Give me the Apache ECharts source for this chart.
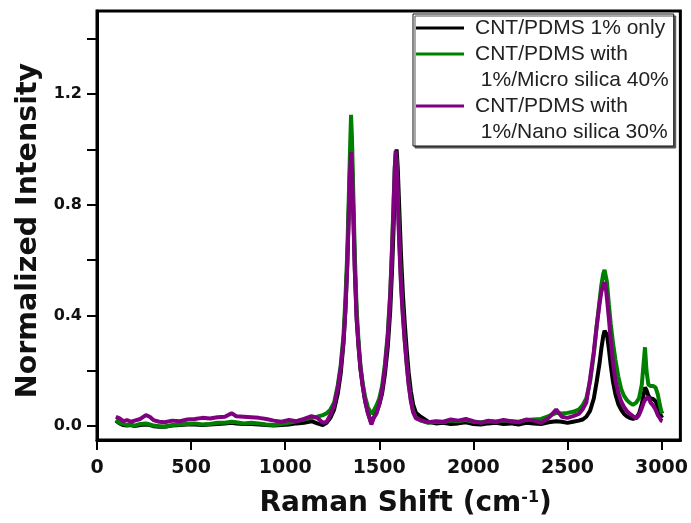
<!DOCTYPE html>
<html>
<head>
<meta charset="utf-8">
<title>Raman spectra</title>
<script src="https://cdn.jsdelivr.net/npm/echarts@6/dist/echarts.min.js"></script>
<style>
  html, body { margin: 0; padding: 0; background: #fff; }
  #chart { width: 691px; height: 523px; }
</style>
</head>
<body>
<div id="chart"></div>
<script>
// Raman shift (cm-1) sampled along the spectra
const ramanShift = [
  100, 120, 140, 160, 180, 200, 230, 260, 280, 300,
  330, 360, 400, 440, 480, 520, 560, 600, 640, 680,
  715, 740, 780, 820, 860, 900, 940, 980, 1020, 1060,
  1100, 1140, 1170, 1200, 1220, 1240, 1260, 1280, 1295, 1310,
  1320, 1330, 1338, 1345, 1350, 1355, 1362, 1370, 1380, 1390,
  1400, 1412, 1425, 1440, 1458, 1470, 1485, 1500, 1515, 1530,
  1545, 1558, 1568, 1576, 1582, 1587, 1592, 1598, 1606, 1616,
  1626, 1636, 1646, 1656, 1668, 1680, 1695, 1720, 1760, 1800,
  1840, 1880, 1920, 1960, 2000, 2040, 2080, 2120, 2160, 2200,
  2240, 2280, 2320, 2360, 2400, 2440, 2470, 2500, 2530, 2560,
  2580, 2600, 2620, 2640, 2655, 2670, 2680, 2690, 2697, 2703,
  2710, 2720, 2730, 2742, 2755, 2770, 2785, 2800, 2815, 2830,
  2848, 2865, 2880, 2895, 2905, 2912, 2920, 2930, 2942, 2955,
  2968, 2980, 2990, 2998, 3005
]

// CNT/PDMS 1% only
const cntOnly = [
  0.020, 0.010, 0.004, 0.002, 0.004, 0.000, 0.004, 0.006, 0.004, 0.000,
  -0.002, -0.002, 0.002, 0.004, 0.006, 0.006, 0.004, 0.006, 0.008, 0.010,
  0.012, 0.010, 0.008, 0.008, 0.006, 0.004, 0.002, 0.004, 0.006, 0.010,
  0.012, 0.018, 0.010, 0.004, 0.012, 0.030, 0.060, 0.120, 0.190, 0.300,
  0.420, 0.590, 0.780, 0.950, 1.020, 0.950, 0.780, 0.570, 0.390, 0.285,
  0.205, 0.145, 0.090, 0.048, 0.012, 0.030, 0.050, 0.078, 0.118, 0.188,
  0.285, 0.415, 0.565, 0.715, 0.845, 0.935, 1.000, 0.935, 0.790, 0.610,
  0.470, 0.365, 0.275, 0.195, 0.125, 0.078, 0.048, 0.034, 0.016, 0.010,
  0.012, 0.008, 0.010, 0.014, 0.008, 0.006, 0.010, 0.012, 0.008, 0.010,
  0.006, 0.012, 0.010, 0.008, 0.014, 0.018, 0.016, 0.012, 0.016, 0.020,
  0.024, 0.034, 0.055, 0.100, 0.160, 0.225, 0.280, 0.325, 0.345, 0.352,
  0.330, 0.280, 0.220, 0.160, 0.115, 0.080, 0.060, 0.045, 0.036, 0.030,
  0.026, 0.030, 0.045, 0.080, 0.115, 0.140, 0.130, 0.110, 0.100, 0.098,
  0.090, 0.070, 0.050, 0.035, 0.030
]

// CNT/PDMS with 1% / Micro silica 40%
const microSilica = [
  0.022, 0.012, 0.008, 0.004, 0.006, 0.002, 0.008, 0.010, 0.006, 0.002,
  0.000, -0.002, 0.004, 0.006, 0.008, 0.010, 0.006, 0.008, 0.012, 0.012,
  0.016, 0.014, 0.010, 0.012, 0.010, 0.006, 0.004, 0.008, 0.012, 0.018,
  0.024, 0.030, 0.034, 0.040, 0.046, 0.060, 0.085, 0.150, 0.220, 0.330,
  0.460, 0.630, 0.830, 1.010, 1.125, 1.040, 0.840, 0.620, 0.420, 0.305,
  0.220, 0.155, 0.105, 0.068, 0.045, 0.055, 0.075, 0.100, 0.145, 0.225,
  0.335, 0.480, 0.650, 0.810, 0.930, 0.985, 0.960, 0.840, 0.680, 0.515,
  0.400, 0.305, 0.225, 0.155, 0.095, 0.055, 0.030, 0.020, 0.012, 0.016,
  0.014, 0.020, 0.018, 0.022, 0.016, 0.014, 0.018, 0.016, 0.020, 0.018,
  0.016, 0.022, 0.024, 0.026, 0.036, 0.048, 0.046, 0.048, 0.052, 0.060,
  0.075, 0.100, 0.160, 0.260, 0.360, 0.450, 0.510, 0.550, 0.565, 0.560,
  0.520, 0.440, 0.370, 0.300, 0.240, 0.180, 0.135, 0.110, 0.095, 0.085,
  0.077, 0.085, 0.100, 0.150, 0.230, 0.285, 0.200, 0.150, 0.145, 0.145,
  0.140, 0.115, 0.080, 0.055, 0.045
]

// CNT/PDMS with 1% / Nano silica 30%
const nanoSilica = [
  0.034, 0.028, 0.018, 0.022, 0.016, 0.020, 0.026, 0.040, 0.034, 0.022,
  0.016, 0.014, 0.020, 0.018, 0.024, 0.026, 0.030, 0.028, 0.032, 0.034,
  0.047, 0.036, 0.034, 0.032, 0.030, 0.026, 0.020, 0.016, 0.022, 0.018,
  0.026, 0.036, 0.030, 0.012, 0.016, 0.040, 0.075, 0.140, 0.210, 0.310,
  0.420, 0.580, 0.760, 0.920, 0.990, 0.930, 0.760, 0.560, 0.380, 0.290,
  0.210, 0.145, 0.090, 0.045, 0.006, 0.030, 0.045, 0.080, 0.130, 0.210,
  0.320, 0.470, 0.640, 0.800, 0.930, 0.995, 0.950, 0.820, 0.660, 0.500,
  0.390, 0.300, 0.220, 0.150, 0.090, 0.050, 0.028, 0.022, 0.014, 0.018,
  0.016, 0.024, 0.020, 0.026, 0.018, 0.012, 0.020, 0.016, 0.022, 0.018,
  0.014, 0.024, 0.020, 0.012, 0.030, 0.060, 0.034, 0.030, 0.036, 0.044,
  0.060, 0.085, 0.170, 0.270, 0.360, 0.440, 0.485, 0.510, 0.520, 0.505,
  0.460, 0.390, 0.310, 0.230, 0.165, 0.120, 0.090, 0.070, 0.055, 0.045,
  0.036, 0.028, 0.040, 0.065, 0.085, 0.095, 0.100, 0.105, 0.085, 0.075,
  0.060, 0.040, 0.030, 0.020, 0.018
]

const seriesNames = [
  'CNT/PDMS 1% only',
  'CNT/PDMS with\n 1%/Micro silica 40%',
  'CNT/PDMS with\n 1%/Nano silica 30%'
]
const seriesColors = ['#000000', '#008000', '#800080']
const xTicks = [0, 500, 1000, 1500, 2000, 2500, 3000]
const yTicks = [0, 0.2, 0.4, 0.6, 0.8, 1.0, 1.2, 1.4]
const yLabels = [0, 0.4, 0.8, 1.2]

const toPoints = (ys) => ramanShift.map((x, i) => [x, ys[i]])

const legendLine = 26
const tickFont = { fontFamily: 'DejaVu Sans', fontWeight: 'bold', color: '#111' }

const chart = echarts.init(document.getElementById('chart'), null, { renderer: 'canvas' })

chart.setOption({
  animation: false,
  grid: {
    left: 97,
    right: 10,
    top: 11,
    bottom: 83,
    show: true,
    borderColor: '#000',
    borderWidth: 3
  },
  legend: {
    left: 413,
    top: 14,
    orient: 'vertical',
    selectedMode: false,
    icon: 'rect',
    itemWidth: 48,
    itemHeight: 3,
    // two-line names get an empty line on top, so the sample line sits on their first line
    itemGap: -legendLine,
    formatter: (name) => (name.indexOf('\n') >= 0 ? '\n' + name : name),
    padding: [1, 5, 1, 3],
    backgroundColor: '#fff',
    borderColor: '#111',
    borderWidth: 1,
    shadowColor: '#555',
    shadowBlur: 0,
    shadowOffsetX: 2,
    shadowOffsetY: 2,
    textStyle: {
      fontFamily: 'Liberation Sans',
      fontSize: 21,
      color: '#222',
      lineHeight: legendLine,
      padding: [0, 0, 0, 6]
    },
    data: seriesNames
  },
  xAxis: {
    type: 'value',
    min: 0,
    max: 3100,
    name: 'Raman Shift (cm{sup|-1})',
    nameLocation: 'middle',
    nameGap: 50,
    nameTextStyle: {
      fontFamily: 'DejaVu Sans',
      fontWeight: 'bold',
      fontSize: 28,
      color: '#111',
      padding: [0, 0, 0, 34],
      rich: {
        sup: {
          fontFamily: 'DejaVu Sans',
          fontWeight: 'bold',
          fontSize: 16,
          color: '#111',
          verticalAlign: 'top',
          padding: [0, 0, 12, 0]
        }
      }
    },
    axisLine: { show: true, onZero: false, lineStyle: { color: '#000', width: 3 } },
    axisTick: { show: true, length: 10, customValues: xTicks, lineStyle: { color: '#000', width: 2 } },
    axisLabel: {
      ...tickFont,
      fontSize: 19,
      margin: 19,
      customValues: xTicks,
      formatter: (v) => String(v)
    },
    splitLine: { show: false }
  },
  yAxis: {
    type: 'value',
    min: -0.05,
    max: 1.5,
    name: 'Normalized Intensity',
    nameLocation: 'middle',
    nameGap: 52,
    nameTextStyle: {
      fontFamily: 'DejaVu Sans',
      fontWeight: 'bold',
      fontSize: 28.5,
      color: '#111',
      padding: [0, 10, 0, 0]
    },
    axisLine: { show: true, onZero: false, lineStyle: { color: '#000', width: 3 } },
    axisTick: { show: true, length: 10, customValues: yTicks, lineStyle: { color: '#000', width: 2 } },
    axisLabel: {
      ...tickFont,
      fontSize: 16,
      margin: 15,
      customValues: yLabels,
      formatter: (v) => v.toFixed(1)
    },
    splitLine: { show: false }
  },
  series: [cntOnly, microSilica, nanoSilica].map((ys, i) => ({
    name: seriesNames[i],
    type: 'line',
    data: toPoints(ys),
    showSymbol: false,
    symbol: 'none',
    color: seriesColors[i],
    lineStyle: { width: 4, color: seriesColors[i] },
    z: 2 + i
  }))
})
</script>
</body>
</html>
